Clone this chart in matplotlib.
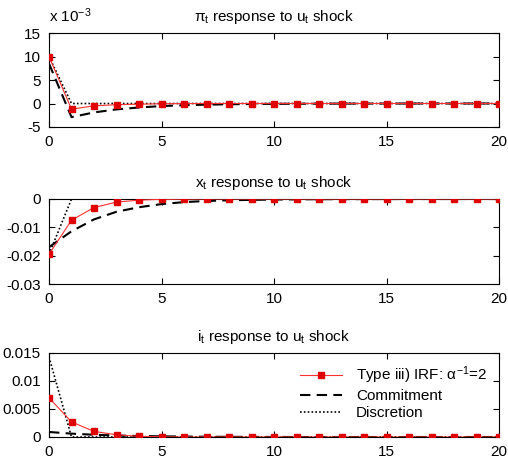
import numpy as np
import matplotlib.pyplot as plt

plt.rcParams['font.family'] = ['Liberation Sans', 'DejaVu Sans']
plt.rcParams['mathtext.fontset'] = 'custom'
plt.rcParams['mathtext.rm'] = 'Liberation Sans'
plt.rcParams['mathtext.it'] = 'Liberation Sans'

periods = np.arange(0, 21)

# inflation response, in units of 1e-3
pi_type3 = [10, -1.2, -0.5, -0.25, -0.15, -0.05, -0.02, 0, 0, 0, 0, 0, 0, 0, 0, 0, 0, 0, 0, 0, 0]
pi_commit = [8.5, -2.9, -1.9, -1.25, -0.85, -0.55, -0.37, -0.25, -0.16, -0.11, -0.07,
             -0.05, -0.03, -0.02, -0.015, -0.01, -0.007, -0.005, -0.003, -0.002, -0.001]
pi_discr = [10, 0, 0, 0, 0, 0, 0, 0, 0, 0, 0, 0, 0, 0, 0, 0, 0, 0, 0, 0, 0]

# output gap response
x_type3 = [-0.0195, -0.0075, -0.003, -0.0011, -0.0004, -0.00012, -0.00004, 0, 0, 0, 0,
           0, 0, 0, 0, 0, 0, 0, 0, 0, 0]
x_commit = [-0.017, -0.0114, -0.0072, -0.0045, -0.0029, -0.0018, -0.0011, -0.0007, -0.00045,
            -0.0003, -0.0002, -0.00012, -0.00008, -0.00005, -0.00003, -0.00002, -0.00001, 0, 0, 0, 0]
x_discr = [-0.0195, 0, 0, 0, 0, 0, 0, 0, 0, 0, 0, 0, 0, 0, 0, 0, 0, 0, 0, 0, 0]

# interest rate response
i_type3 = [0.007, 0.0027, 0.001, 0.0004, 0.00012, 0.00004, 0, 0, 0, 0, 0,
           0, 0, 0, 0, 0, 0, 0, 0, 0, 0]
i_commit = [0.0009, 0.0006, 0.0004, 0.00027, 0.00018, 0.00012, 0.00008, 0.00005, 0.00003,
            0.00002, 0.00001, 0, 0, 0, 0, 0, 0, 0, 0, 0, 0]
i_discr = [0.0143, 0, 0, 0, 0, 0, 0, 0, 0, 0, 0, 0, 0, 0, 0, 0, 0, 0, 0, 0, 0]

titles = [r'$\pi_\mathrm{t}$ response to u$_\mathrm{t}$ shock',
          r'x$_\mathrm{t}$ response to u$_\mathrm{t}$ shock',
          r'i$_\mathrm{t}$ response to u$_\mathrm{t}$ shock']

fig = plt.figure(figsize=(5.08, 4.59), dpi=100)
W, H = 508, 459
boxes = [(49, 33, 499, 127), (49, 199, 499, 284), (49, 353, 499, 437)]
axes = []
for (l, t, r, b) in boxes:
    axes.append(fig.add_axes([l / W, 1 - b / H, (r - l) / W, (b - t) / H]))

series = [(pi_type3, pi_commit, pi_discr), (x_type3, x_commit, x_discr), (i_type3, i_commit, i_discr)]
ylims = [(-5, 15), (-0.03, 0), (0, 0.015)]
yticks = [[-5, 0, 5, 10, 15], [-0.03, -0.02, -0.01, 0], [0, 0.005, 0.01, 0.015]]
yticklabels = [['-5', '0', '5', '10', '15'], ['-0.03', '-0.02', '-0.01', '0'], ['0', '0.005', '0.01', '0.015']]

for ax, (s3, sc, sd), title, yl, yt, ytl in zip(axes, series, titles, ylims, yticks, yticklabels):
    ax.plot(periods, s3, color='#ff3030', lw=0.8, marker='s', ms=5, mfc='#e00000', mec='#e00000',
            label=r'Type iii) IRF: $\alpha^{\mathrm{-1}}$=2', zorder=3)
    ax.plot(periods, sc, color='black', lw=1.5, ls=(0, (5, 3)), label='Commitment', zorder=2)
    ax.plot(periods, sd, color='black', lw=1.2, ls=(0, (1, 1.3)), label='Discretion', zorder=2)
    ax.set_xlim(0, 20)
    ax.set_ylim(*yl)
    ax.set_yticks(yt)
    ax.set_yticklabels(ytl)
    ax.set_xticks([0, 5, 10, 15, 20])
    ax.tick_params(direction='in', top=True, right=True, labelsize=11, length=4, width=0.8, pad=6)
    ax.set_title(title, fontsize=11, pad=9)
    for sp in ax.spines.values():
        sp.set_linewidth(0.8)

axes[0].text(0.0, 1.09, r'x 10$^{\mathrm{-3}}$', transform=axes[0].transAxes, fontsize=11,
             ha='left', va='bottom')

leg = axes[2].legend(loc='upper right', frameon=False, fontsize=11, handlelength=2.8,
                     labelspacing=0.2, borderaxespad=0.55, borderpad=0.2, handletextpad=0.9)

fig.savefig('out.png', dpi=100)
